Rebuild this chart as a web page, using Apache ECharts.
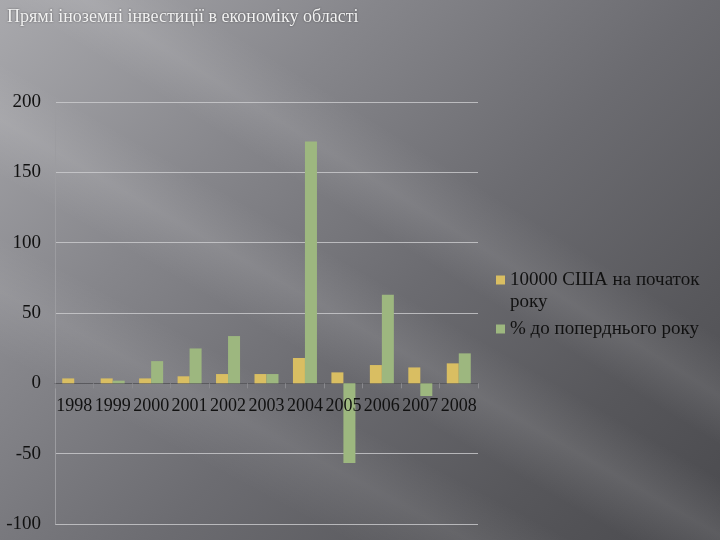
<!DOCTYPE html>
<html>
<head>
<meta charset="utf-8">
<script src="https://cdn.jsdelivr.net/npm/echarts@6/dist/echarts.min.js"></script>
<style>
  html, body { margin: 0; padding: 0; }
  body {
    width: 720px; height: 540px; overflow: hidden; position: relative;
    background: linear-gradient(135deg, #a9a9ad 0%, #86868b 30%, #6c6c71 55%, #57575b 80%, #4a4a4e 100%);
  }
  .streaks {
    position: absolute; left: 0; top: 0; width: 720px; height: 540px;
    background:
      linear-gradient(30deg, rgba(255,255,255,0) 38%, rgba(255,255,255,0.10) 44%, rgba(255,255,255,0) 50%),
      linear-gradient(32deg, rgba(255,255,255,0) 55%, rgba(255,255,255,0.09) 60%, rgba(255,255,255,0) 66%),
      linear-gradient(28deg, rgba(255,255,255,0) 20%, rgba(255,255,255,0.08) 27%, rgba(255,255,255,0) 33%);
  }
  #chart { position: absolute; left: 0; top: 0; width: 720px; height: 540px; }
</style>
</head>
<body>
<div class="streaks"></div>
<div id="chart"></div>
<script>
const years = ["1998", "1999", "2000", "2001", "2002", "2003", "2004", "2005", "2006", "2007", "2008"];
const usdStart = [3.5, 3.5, 3.5, 5, 6.6, 6.6, 18, 7.8, 13, 11.3, 14.2];
const pctPrev = [0, 1.9, 15.8, 24.8, 33.6, 6.6, 171.9, -56.7, 63, -9, 21.3];
const seriesNames = ["10000 США на початок року", "% до поперднього року"];

const chart = echarts.init(document.getElementById("chart"));
const serif = "'Liberation Serif', 'DejaVu Serif', serif";

// legend squares inside a tall 9x44 box so they line up with the first text line
const iconTop = "path://M0,0L0,0M9,44L9,44M0,6.5L9,6.5L9,15.5L0,15.5Z";
const iconMid = "path://M0,0L0,0M9,44L9,44M0,17.5L9,17.5L9,26.5L0,26.5Z";

chart.setOption({
  backgroundColor: "transparent",
  title: {
    text: "Прямі іноземні інвестиції в економіку області",
    left: 2,
    top: 3,
    textStyle: {
      fontFamily: serif, fontSize: 18, fontWeight: "normal", color: "#f2f2f2",
      textShadowColor: "rgba(0,0,0,0.5)", textShadowBlur: 2
    }
  },
  legend: {
    orient: "vertical",
    left: 496,
    top: 269,
    padding: 0,
    itemWidth: 9,
    itemHeight: 44,
    itemGap: -6,
    data: [
      { name: seriesNames[0], icon: iconTop },
      { name: seriesNames[1], icon: iconMid }
    ],
    formatter: (name) => name === seriesNames[0] ? "10000 США на початок\nроку" : name,
    textStyle: { fontFamily: serif, fontSize: 19, color: "#111", lineHeight: 22 }
  },
  grid: { left: 55, right: 242, top: 102, bottom: 16, outerBoundsMode: "none" },
  xAxis: [
    {
      type: "category",
      data: years,
      axisLine: { onZero: true, lineStyle: { color: "#5a5a5e", width: 1 } },
      axisTick: { show: true, length: 5, lineStyle: { color: "#8a8a8e" } },
      axisLabel: { show: false },
      splitLine: { show: false }
    },
    {
      // label row sitting just under the zero line, drawn over the bars
      type: "category",
      data: years,
      position: "bottom",
      offset: -140.7,
      z: 10,
      axisLine: { show: false },
      axisTick: { show: false },
      axisLabel: { fontFamily: serif, fontSize: 18, color: "#111", margin: 14, interval: 0 },
      splitLine: { show: false }
    }
  ],
  yAxis: {
    type: "value",
    min: -100,
    max: 200,
    interval: 50,
    axisLine: { show: true, lineStyle: { color: "#9c9ca0" } },
    axisTick: { show: false },
    axisLabel: { fontFamily: serif, fontSize: 19, color: "#111", margin: 14 },
    splitLine: { lineStyle: { color: "rgba(205,205,208,0.8)", width: 1 } }
  },
  series: [
    {
      name: seriesNames[0],
      type: "bar",
      data: usdStart,
      itemStyle: { color: "#d9be62" },
      barWidth: 12,
      barGap: "0%"
    },
    {
      name: seriesNames[1],
      type: "bar",
      data: pctPrev,
      itemStyle: { color: "#9db77f" },
      barWidth: 12,
      barGap: "0%"
    }
  ]
});
</script>
</body>
</html>
